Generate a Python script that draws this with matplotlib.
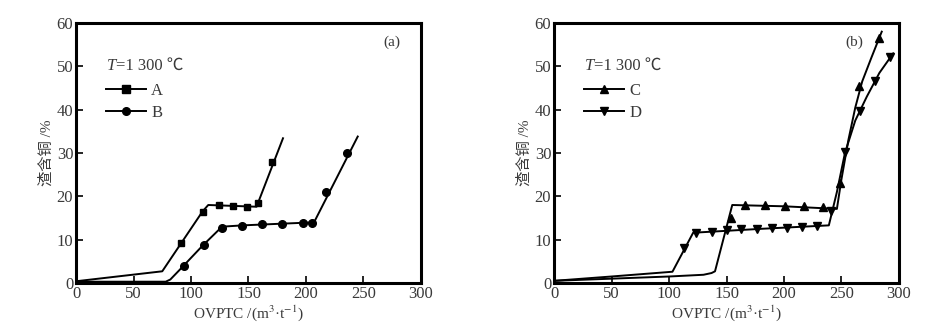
import matplotlib
matplotlib.use("Agg")
import matplotlib.pyplot as plt
from matplotlib.lines import Line2D

plt.rcParams['font.family'] = ['Liberation Serif', 'Noto Sans CJK SC']
plt.rcParams['mathtext.fontset'] = 'stix'

# ---- panel (a): measured points ----
A_x = [91, 110, 124, 136.5, 148.5, 158.5, 170.5]
A_y = [9.3, 16.4, 17.9, 17.8, 17.6, 18.5, 28.0]
B_x = [93.5, 111, 127, 144, 161.5, 179.5, 197, 205, 217.5, 235.5]
B_y = [3.9, 8.8, 12.8, 13.2, 13.5, 13.7, 13.8, 13.9, 21.1, 30.0]

# ---- panel (a): trend curves ----
A_line_x = [0, 75, 110, 115, 157, 180]
A_line_y = [0.4, 2.7, 16.5, 18.0, 17.6, 33.4]
B_line_x = [0, 78, 82, 90, 110, 127, 145, 180, 207, 245]
B_line_y = [0.3, 0.3, 0.8, 3.0, 8.6, 13.0, 13.3, 13.7, 14.0, 33.8]

# ---- panel (b): measured points ----
C_x = [154, 166.5, 183.5, 200.5, 217.5, 234, 248.5, 265.5, 282.5]
C_y = [14.9, 18.1, 18.0, 17.8, 17.7, 17.6, 23.1, 45.5, 56.5]
D_x = [113, 123.5, 137, 150, 163, 176.5, 189.5, 202.5, 215.5, 228.5, 241, 253, 266, 279, 292]
D_y = [8.0, 11.5, 11.7, 12.2, 12.4, 12.5, 12.7, 12.8, 13.0, 13.2, 16.6, 30.2, 39.8, 46.7, 52.1]

# ---- panel (b): trend curves ----
C_line_x = [0, 50, 100, 130, 137, 140, 155, 200, 246, 250, 256, 262, 268, 276, 285]
C_line_y = [0.5, 1.0, 1.5, 1.9, 2.3, 2.7, 18.0, 17.7, 17.1, 24.0, 33.0, 40.5, 46.5, 52.0, 58.0]
D_line_x = [0, 50, 103, 121, 180, 239, 246, 253, 262, 272, 283, 295]
D_line_y = [0.5, 1.5, 2.6, 11.6, 12.5, 13.3, 21.0, 30.0, 37.5, 43.0, 48.5, 53.0]

x_ticks = [0, 50, 100, 150, 200, 250, 300]
y_ticks = [0, 10, 20, 30, 40, 50, 60]

text_color = '#3a3a3a'
lw = 1.4
ms = 5.5

fig = plt.figure(figsize=(9.49, 3.28), dpi=100)
ax_a = fig.add_axes([0.0801, 0.1372, 0.3635, 0.7927])
ax_b = fig.add_axes([0.5838, 0.1372, 0.3635, 0.7927])


def style_axes(ax, tag, tag_x):
    ax.set_xlim(0, 300)
    ax.set_ylim(0, 60)
    ax.set_xticks(x_ticks)
    ax.set_yticks(y_ticks)
    ax.tick_params(direction='in', length=5, width=1.2, labelsize=12,
                   colors='black', labelcolor=text_color, pad=2)
    for s in ax.spines.values():
        s.set_linewidth(2.2)
    ax.set_xlabel('OVPTC /(m$^3$·t$^{-1}$)', fontsize=11, color=text_color, labelpad=1)
    ax.set_ylabel('渣含铜 /%', fontsize=11, color=text_color, labelpad=2)
    ax.text(tag_x, 0.925, tag, transform=ax.transAxes, fontsize=11,
            color=text_color, ha='center', va='center')
    # temperature note: italic symbol followed by plain text
    t_sym = ax.text(0.09, 0.835, 'T', transform=ax.transAxes, fontsize=12,
                    style='italic', color=text_color, ha='left', va='center')
    ax.annotate('=1 300 ℃', xy=(1, 0.5), xycoords=t_sym, xytext=(0, 0),
                textcoords='offset points', fontsize=12, color=text_color,
                ha='left', va='center')


style_axes(ax_a, '(a)', 0.915)
style_axes(ax_b, '(b)', 0.87)

ax_a.plot(A_line_x, A_line_y, color='black', lw=lw)
ax_a.plot(B_line_x, B_line_y, color='black', lw=lw)
ax_a.plot(A_x, A_y, 's', color='black', ms=ms - 0.5)
ax_a.plot(B_x, B_y, 'o', color='black', ms=ms)

ax_b.plot(C_line_x, C_line_y, color='black', lw=lw)
ax_b.plot(D_line_x, D_line_y, color='black', lw=lw)
ax_b.plot(C_x, C_y, '^', color='black', ms=ms)
ax_b.plot(D_x, D_y, 'v', color='black', ms=ms)


def legend_for(ax, markers, labels):
    handles = [Line2D([], [], color='black', lw=lw, marker=m, ms=ms) for m in markers]
    leg = ax.legend(handles, labels, loc='upper left', bbox_to_anchor=(0.068, 0.795),
                    frameon=False, fontsize=12, handlelength=2.4, handletextpad=0.3,
                    labelspacing=0.35, borderaxespad=0)
    for t in leg.get_texts():
        t.set_color(text_color)


legend_for(ax_a, ['s', 'o'], ['A', 'B'])
legend_for(ax_b, ['^', 'v'], ['C', 'D'])

fig.savefig('out.png', dpi=100)
